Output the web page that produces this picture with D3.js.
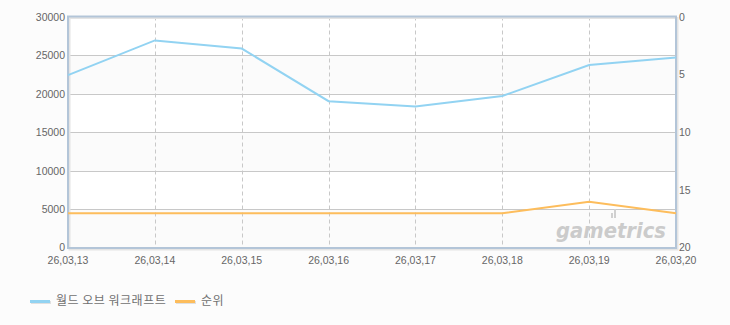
<!DOCTYPE html>
<html><head><meta charset="utf-8">
<script src="https://cdn.jsdelivr.net/npm/d3@7"></script>
<style>body{margin:0;background:#fcfcfc;}svg{display:block;}</style>
</head><body><svg id="c" width="730" height="325"></svg>
<script>
const categories = ["26,03,13","26,03,14","26,03,15","26,03,16","26,03,17","26,03,18","26,03,19","26,03,20"];
const users = [22400, 26900, 25850, 19030, 18350, 19700, 23720, 24700];
const rank = [17, 17, 17, 17, 17, 17, 16, 17];
const leftTicks = [0,5000,10000,15000,20000,25000,30000];
const rightTicks = [0,5,10,15,20];
const seriesNames = ["월드 오브 워크래프트", "순위"];
const colors = ["#92d3f2", "#fdbd5c"];

const svg = d3.select("#c");
const L = 68, R = 676, T = 16.5, B = 248;
const x = d3.scalePoint().domain(categories).range([L, R]);
const y = d3.scaleLinear().domain([0, 30000]).range([B, T]);
const y2 = d3.scaleLinear().domain([0, 20]).range([T, B]);
const font = "'Liberation Sans', Arial, sans-serif";

svg.append("rect").attr("width",730).attr("height",325).attr("fill","#fcfcfc");
// bands
for (let i = 0; i < leftTicks.length - 1; i++) {
  svg.append("rect").attr("x", L).attr("width", R - L)
    .attr("y", y(leftTicks[i+1])).attr("height", y(leftTicks[i]) - y(leftTicks[i+1]))
    .attr("fill", (i % 2 === 0) ? "#fbfbfb" : "#ffffff");
}
// horizontal grid
svg.append("g").selectAll("line").data(leftTicks.slice(1,-1)).join("line")
  .attr("x1", L).attr("x2", R).attr("y1", d => Math.round(y(d))+0.5).attr("y2", d => Math.round(y(d))+0.5)
  .attr("stroke", "#c8c8c8");
// vertical dashed grid
svg.append("g").selectAll("line").data(categories.slice(1,-1)).join("line")
  .attr("x1", d => Math.round(x(d))+0.5).attr("x2", d => Math.round(x(d))+0.5).attr("y1", T).attr("y2", B)
  .attr("stroke", "#c8c8c8").attr("stroke-dasharray", "4,3");

// watermark
const wm = svg.append("g");
wm.append("text").attr("x", 556).attr("y", 238).text("gametrics")
  .attr("font-family", "'DejaVu Sans', sans-serif").attr("font-weight", "bold").attr("font-style","italic")
  .attr("font-size", 22).attr("fill", "#cbcbcb").attr("textLength", 110).attr("lengthAdjust","spacingAndGlyphs");
wm.append("rect").attr("x", 611).attr("y", 213).attr("width", 2).attr("height", 5).attr("fill", "#d0d0d0");
wm.append("rect").attr("x", 614).attr("y", 209).attr("width", 2).attr("height", 9).attr("fill", "#d0d0d0");

// frame shadow + frame
svg.append("rect").attr("x", L+1.5).attr("y", T+1.5).attr("width", R-L).attr("height", B-T)
  .attr("fill","none").attr("stroke","#e4e4e4").attr("stroke-width",2);
svg.append("rect").attr("x", L).attr("y", T).attr("width", R-L).attr("height", B-T)
  .attr("fill","none").attr("stroke","#b3c5d8").attr("stroke-width",2);

// lines
const line1 = d3.line().x((d,i) => x(categories[i])).y(d => y(d));
const line2 = d3.line().x((d,i) => x(categories[i])).y(d => y2(d));
svg.append("path").datum(users).attr("d", line1).attr("fill","none").attr("stroke", colors[0]).attr("stroke-width", 2);
svg.append("path").datum(rank).attr("d", line2).attr("fill","none").attr("stroke", colors[1]).attr("stroke-width", 2);

// axes labels
const lab = {"font-family": font, "font-size": 10.5, "fill": "#666"};
function applyLab(sel){ Object.entries(lab).forEach(([k,v]) => sel.attr(k,v)); return sel; }
applyLab(svg.append("g").selectAll("text").data(leftTicks).join("text")
  .attr("x", 65).attr("y", d => y(d) + (d === 0 ? 3 : 4)).attr("text-anchor","end").text(d => d));
applyLab(svg.append("g").selectAll("text").data(rightTicks).join("text")
  .attr("x", 679).attr("y", d => y2(d) + (d === 20 ? 3 : 4)).attr("text-anchor","start").text(d => d));
applyLab(svg.append("g").selectAll("text").data(categories).join("text")
  .attr("x", d => x(d)).attr("y", 264).attr("text-anchor","middle").text(d => d));

// legend
const lg = svg.append("g");
const legX = [30, 175];
const legW = [105, 20];
seriesNames.forEach((n, i) => {
  lg.append("rect").attr("x", legX[i]+1).attr("y", 301).attr("width", 20).attr("height", 3).attr("fill", "#e0e0e0");
  lg.append("rect").attr("x", legX[i]).attr("y", 300).attr("width", 20).attr("height", 3).attr("fill", colors[i]);
  const t = lg.append("text").attr("x", legX[i] + 26).attr("y", 305).text(n)
    .attr("font-family", "'Noto Sans CJK KR', sans-serif").attr("font-size", 12).attr("fill", "#707070")
    .attr("letter-spacing", 0.5);
  const len = t.node().getComputedTextLength();
  const gaps = (n.match(/ /g) || []).length;
  if (gaps > 0 && len < legW[i]) {
    // widen only the word gaps so the label spans the reference width
    const words = n.split(" ");
    t.text(null);
    const extra = (legW[i] - len) / gaps;
    words.forEach((w, k) => {
      t.append("tspan").attr("dx", k === 0 ? 0 : extra).text((k === 0 ? "" : " ") + w);
    });
  }
});
</script></body></html>
